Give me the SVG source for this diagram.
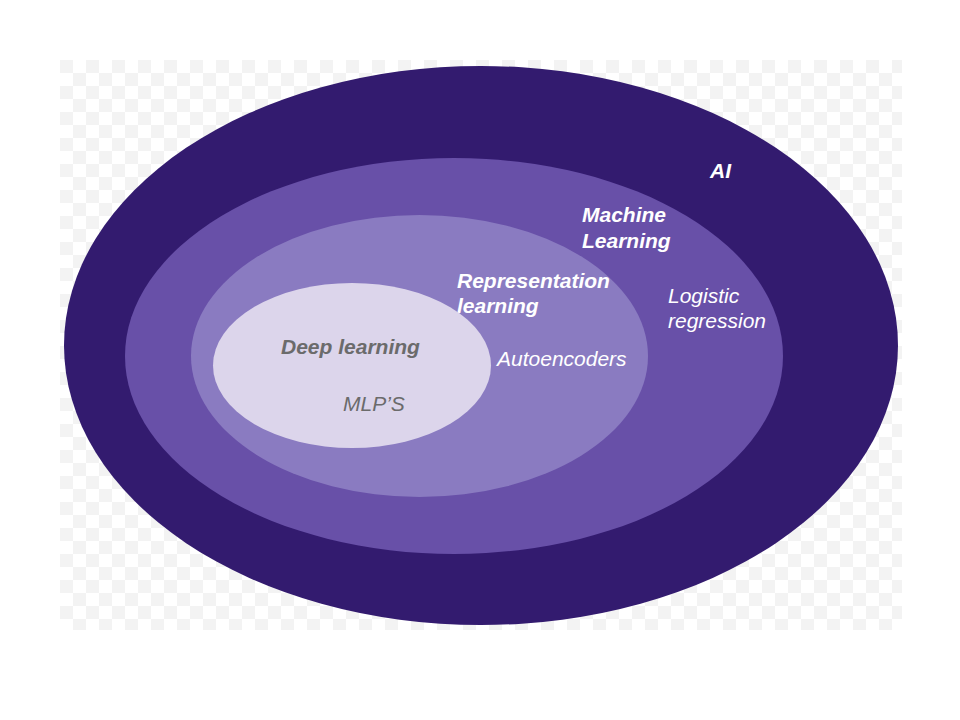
<svg xmlns="http://www.w3.org/2000/svg" width="960" height="720" viewBox="0 0 960 720">
<defs>
<pattern id="chk" x="60" y="60" width="26" height="26" patternUnits="userSpaceOnUse">
<rect width="26" height="26" fill="#ffffff"/>
<rect width="13" height="13" fill="#f3f3f3"/>
<rect x="13" y="13" width="13" height="13" fill="#f3f3f3"/>
</pattern>
</defs>
<style>
text{font-family:"Liberation Sans",Arial,sans-serif;font-size:21px;font-style:italic}
.b{font-weight:bold}
.w{fill:#ffffff}
.g{fill:#6b6b6b}
</style>
<rect width="960" height="720" fill="#ffffff"/>
<rect x="60" y="60" width="842" height="570" fill="url(#chk)"/>
<g id="ai">
<ellipse cx="481" cy="345.5" rx="417" ry="279.5" fill="#331b6f"/>
<text class="b w" x="710" y="178">AI</text>
</g>
<g id="ml">
<ellipse cx="454" cy="356" rx="329" ry="198" fill="#6850a8"/>
<text class="b w" x="582" y="222">Machine</text>
<text class="b w" x="582" y="248">Learning</text>
<text class="w" x="668" y="303">Logistic</text>
<text class="w" x="668" y="328">regression</text>
</g>
<g id="rl">
<ellipse cx="419.5" cy="356" rx="228.5" ry="141" fill="#8a7bc1"/>
<text class="b w" x="457" y="288">Representation</text>
<text class="b w" x="457" y="313">learning</text>
<text class="w" x="497" y="366">Autoencoders</text>
</g>
<g id="dl">
<ellipse cx="352" cy="365.5" rx="139" ry="82.5" fill="#dcd5eb"/>
<text class="b g" x="281" y="354">Deep learning</text>
<text class="g" x="343" y="411">MLP’S</text>
</g>
<g id="connectors"></g>
</svg>
